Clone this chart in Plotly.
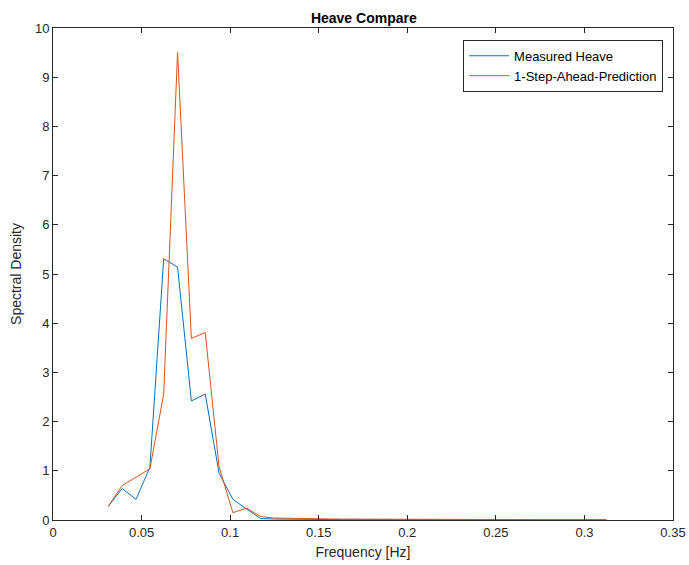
import numpy as np
import plotly.graph_objects as go

# Frequency bins (k / 128 Hz, k = 4..40)
freq = [k / 128 for k in range(4, 41)]

measured_heave = [
    0.28, 0.64, 0.42, 1.07, 5.31, 5.14, 2.42, 2.56, 0.95, 0.42, 0.22, 0.03,
    0.02, 0.015, 0.012, 0.01, 0.008, 0.007, 0.006, 0.005, 0.005, 0.004, 0.004,
    0.003, 0.003, 0.003, 0.002, 0.002, 0.002, 0.002, 0.002, 0.001, 0.001,
    0.001, 0.001, 0.001, 0.001,
]

prediction = [
    0.28, 0.70, 0.87, 1.04, 2.56, 9.51, 3.69, 3.81, 1.08, 0.15, 0.24, 0.07,
    0.04, 0.032, 0.027, 0.024, 0.021, 0.019, 0.017, 0.016, 0.015, 0.014, 0.013,
    0.012, 0.011, 0.011, 0.010, 0.010, 0.009, 0.009, 0.008, 0.008, 0.008,
    0.007, 0.007, 0.007, 0.006,
]

x_ticks = [0, 0.05, 0.1, 0.15, 0.2, 0.25, 0.3, 0.35]
x_tick_text = ["0", "0.05", "0.1", "0.15", "0.2", "0.25", "0.3", "0.35"]
y_ticks = list(range(0, 11))

FONT = "Liberation Sans, Arial, sans-serif"
AX = "#262626"

fig = go.Figure()
fig.add_trace(go.Scatter(x=freq, y=measured_heave, mode="lines",
                         name="Measured Heave",
                         line=dict(color="#0072BD", width=1)))
fig.add_trace(go.Scatter(x=freq, y=prediction, mode="lines",
                         name="1-Step-Ahead-Prediction",
                         line=dict(color="#D95319", width=1)))

axis_common = dict(
    showgrid=False, zeroline=False, showline=True, linecolor=AX, linewidth=1,
    mirror="ticks", ticks="inside", ticklen=5, tickcolor=AX, tickwidth=1,
    tickfont=dict(family=FONT, size=13, color=AX), automargin=False,
)

fig.update_layout(
    width=689, height=565,
    margin=dict(l=53, r=16, t=28, b=45),
    paper_bgcolor="white", plot_bgcolor="white",
    font=dict(family=FONT, size=13, color=AX),
    title=dict(text="<b>Heave Compare</b>", x=0.528, xanchor="center",
               y=0.977, yanchor="top",
               font=dict(family=FONT, size=14, color="black")),
    xaxis=dict(range=[0, 0.35], tickvals=x_ticks, ticktext=x_tick_text,
               title=dict(text="Frequency [Hz]", standoff=8,
                          font=dict(family=FONT, size=14, color=AX)),
               **axis_common),
    yaxis=dict(range=[0, 10], tickvals=y_ticks,
               title=dict(text="Spectral Density", standoff=10,
                          font=dict(family=FONT, size=14, color=AX)),
               **axis_common),
    legend=dict(x=0.984, xanchor="right", y=0.976, yanchor="top",
                bordercolor=AX, borderwidth=1, bgcolor="white",
                font=dict(family=FONT, size=13, color="black"),
                tracegroupgap=0, itemwidth=40),
    showlegend=True,
)

fig.write_html("out.html")
